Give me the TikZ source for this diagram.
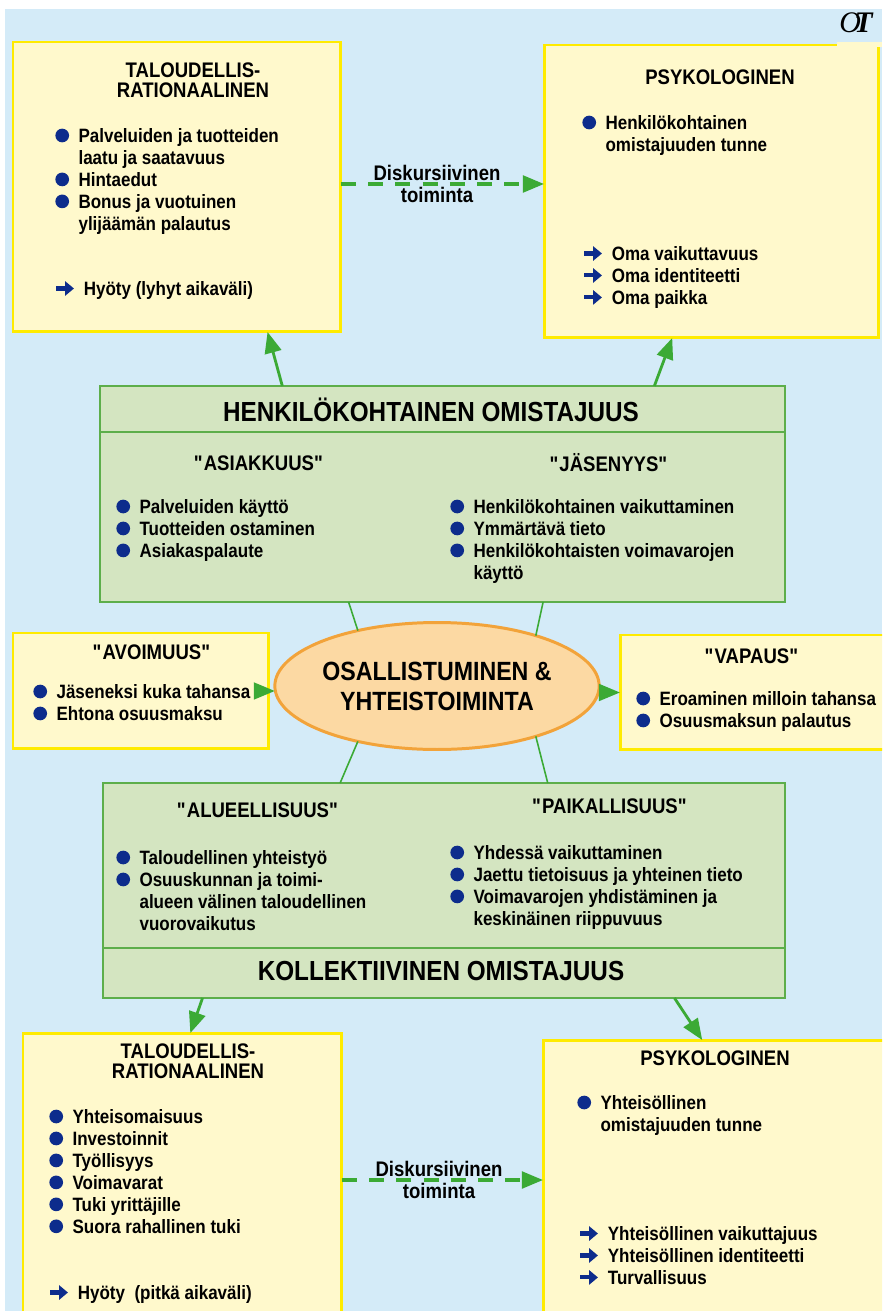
\documentclass[tikz,border=0pt]{standalone}
\usepackage{fontspec}
\setmainfont{Liberation Sans}[FakeStretch=0.88]
\newfontfamily\logofont{Liberation Serif}
\usepackage{tikz}
\usetikzlibrary{arrows.meta,shapes.geometric,calc}

\definecolor{skyblue}{HTML}{D4EBF8}
\definecolor{cream}{HTML}{FFF9CC}
\definecolor{boxyellow}{HTML}{FFEB00}
\definecolor{palegreen}{HTML}{D4E5C1}
\definecolor{boxgreen}{HTML}{5DAE4B}
\definecolor{peach}{HTML}{FCD9A3}
\definecolor{orangeedge}{HTML}{F2A33A}
\definecolor{navy}{HTML}{0D2C8C}
\definecolor{arrowgreen}{HTML}{3BAA35}

\newcommand{\blt}{\tikz[baseline]\fill[navy] (3.9pt,3.9pt) circle (3.9pt);\hspace{5.4pt}}
\newcommand{\arr}{\tikz[baseline]\draw[navy,line width=2.3pt,-{Triangle[length=5pt,width=8pt]}] (0pt,3.9pt) -- (10pt,3.9pt);\hspace{4.5pt}}
\newcommand{\ind}{\hspace*{13.2pt}}
\newcommand{\qt}{\textquotedbl}

\begin{document}
\begin{tikzpicture}[x=0.02cm,y=-0.02cm]
\tikzset{ybox/.style={draw=boxyellow,line width=1.7pt,fill=cream,inner sep=0pt,outer sep=0pt,anchor=north west},
    gbox/.style={draw=boxgreen,line width=1.4pt,fill=palegreen,inner sep=0pt,outer sep=0pt,anchor=north west},
    eli/.style={ellipse,draw=orangeedge,line width=1.7pt,fill=peach,inner sep=0pt,outer sep=0pt,minimum width=5.22cm,minimum height=2.54cm,align=center,font=\fontsize{15}{17}\selectfont\bfseries},
    title/.style={inner sep=0pt,align=center,font=\fontsize{12}{11.5}\selectfont\bfseries},
    head/.style={inner sep=0pt,font=\fontsize{15.7}{17}\selectfont\bfseries},
    items/.style={inner sep=0pt,anchor=north west,align=left,font=\fontsize{11}{12.5}\selectfont\bfseries},
    disk/.style={inner sep=0pt,align=center,font=\fontsize{12}{13}\selectfont\bfseries},
    garrow/.style={draw=arrowgreen,line width=1.6pt,-{Triangle[length=12pt,width=9.5pt]}},
    dasharrow/.style={garrow,line width=1.8pt,dash pattern=on 8.5pt off 7pt},
    spoke/.style={draw=arrowgreen,line width=0.9pt}};
\useasboundingbox (0,0) rectangle (882,1311);
\clip (0,0) rectangle (882,1311);
\fill[skyblue] (5,9) rectangle (882,1311);
    \node[ybox,minimum width=6.56cm,minimum height=5.8cm] (tl) at (13,42) {};
    \node[ybox,minimum width=6.7cm,minimum height=5.86cm] (tr) at (544,45) {};
    \fill[cream] (837,42.5) rectangle (882,47);
    \node[gbox,minimum width=13.7cm,minimum height=4.32cm] (hk) at (100,386) {};
    \node[ybox,minimum width=5.12cm,minimum height=2.32cm] (av) at (13,633) {};
    \node[ybox,minimum width=5.3cm,minimum height=2.3cm] (va) at (620,635) {};
    \node[eli] (el) at (437,686) {OSALLISTUMINEN \&\\YHTEISTOIMINTA};
    \node[gbox,minimum width=13.64cm,minimum height=4.3cm] (ko) at (103,783) {};
    \node[ybox,minimum width=6.38cm,minimum height=6cm] (bl) at (23,1033) {};
    \node[ybox,minimum width=7cm,minimum height=6cm] (br) at (543,1040) {};
\draw[boxgreen,line width=1.4pt] ($(hk.north west)+(0,46)$) -- ($(hk.north east)+(0,46)$);
\draw[boxgreen,line width=1.4pt] ($(ko.south west)+(0,-50)$) -- ($(ko.south east)+(0,-50)$);
\node[inner sep=0pt,font=\logofont\itshape\fontsize{17}{17}\selectfont] (logo) at (856,23) {O\kern-0.22em\textbf{T}};
    \node[title] (tlt) at (193,80) {TALOUDELLIS-\\RATIONAALINEN};
    \node[items] (tli) at (55,128) {\blt Palveluiden ja tuotteiden\\\ind laatu ja saatavuus\\\blt Hintaedut\\\blt Bonus ja vuotuinen\\\ind ylijäämän palautus};
    \node[items] (tlh) at (54,281) {\arr Hyöty (lyhyt aikaväli)};
    \node[title] (trt) at (720,77) {PSYKOLOGINEN};
    \node[items] (tri) at (582,115) {\blt Henkilökohtainen\\\ind omistajuuden tunne};
    \node[items] (tra) at (582,246) {\arr Oma vaikuttavuus\\\arr Oma identiteetti\\\arr Oma paikka};
    \node[head] (hkh) at (431,410) {HENKILÖKOHTAINEN OMISTAJUUS};
    \node[title] (as) at (259,463) {\qt ASIAKKUUS\qt};
    \node[items] (asi) at (116,499) {\blt Palveluiden käyttö\\\blt Tuotteiden ostaminen\\\blt Asiakaspalaute};
    \node[title] (js) at (609,463) {\qt JÄSENYYS\qt};
    \node[items] (jsi) at (450,499) {\blt Henkilökohtainen vaikuttaminen\\\blt Ymmärtävä tieto\\\blt Henkilökohtaisten voimavarojen\\\ind käyttö};
    \node[title] (avt) at (152,652) {\qt AVOIMUUS\qt};
    \node[items] (avi) at (33,684) {\blt Jäseneksi kuka tahansa\\\blt Ehtona osuusmaksu};
    \node[title] (vat) at (752,656) {\qt VAPAUS\qt};
    \node[items] (vai) at (636,691) {\blt Eroaminen milloin tahansa\\\blt Osuusmaksun palautus};
    \node[title] (al) at (258,810) {\qt ALUEELLISUUS\qt};
    \node[items] (ali) at (116,850) {\blt Taloudellinen yhteistyö\\\blt Osuuskunnan ja toimi-\\\ind alueen välinen taloudellinen\\\ind vuorovaikutus};
    \node[title] (pk) at (610,806) {\qt PAIKALLISUUS\qt};
    \node[items] (pki) at (450,845) {\blt Yhdessä vaikuttaminen\\\blt Jaettu tietoisuus ja yhteinen tieto\\\blt Voimavarojen yhdistäminen ja\\\ind keskinäinen riippuvuus};
    \node[head] (koh) at (441,971) {KOLLEKTIIVINEN OMISTAJUUS};
    \node[title] (blti) at (188,1061) {TALOUDELLIS-\\RATIONAALINEN};
    \node[items] (bli) at (49,1109) {\blt Yhteisomaisuus\\\blt Investoinnit\\\blt Työllisyys\\\blt Voimavarat\\\blt Tuki yrittäjille\\\blt Suora rahallinen tuki};
    \node[items] (blh) at (48,1285) {\arr Hyöty\ \ (pitkä aikaväli)};
    \node[title] (brt) at (715,1058) {PSYKOLOGINEN};
    \node[items] (bri) at (577,1095) {\blt Yhteisöllinen\\\ind omistajuuden tunne};
    \node[items] (bra) at (578,1226) {\arr Yhteisöllinen vaikuttajuus\\\arr Yhteisöllinen identiteetti\\\arr Turvallisuus};
    \node[disk] (dk1) at (437,184) {Diskursiivinen\\toiminta};
    \node[disk] (dk2) at (439,1180) {Diskursiivinen\\toiminta};
\draw[dasharrow] (dk1 -| tl.east) -- (dk1 -| tr.west);
\draw[dasharrow] (dk2 -| bl.east) -- (dk2 -| br.west);
\draw[garrow] (hk.146) -- (tl.302);
\draw[garrow] (hk.27) -- (tr.255);
\draw[spoke] (hk.229) -- (el.145);
\draw[spoke] (hk.313) -- (el.27);
\draw[spoke] (el.215) -- (ko.134);
\draw[spoke] (el.333) -- (ko.46.5);
\draw[garrow] (av.east) -- (av.east -| el.west);
\draw[garrow] (el.east |- va.west) -- (va.west);
\draw[garrow] (ko.204.7) -- (bl.87);
\draw[garrow] (ko.335.2) -- (br.96);
\end{tikzpicture}
\end{document}
